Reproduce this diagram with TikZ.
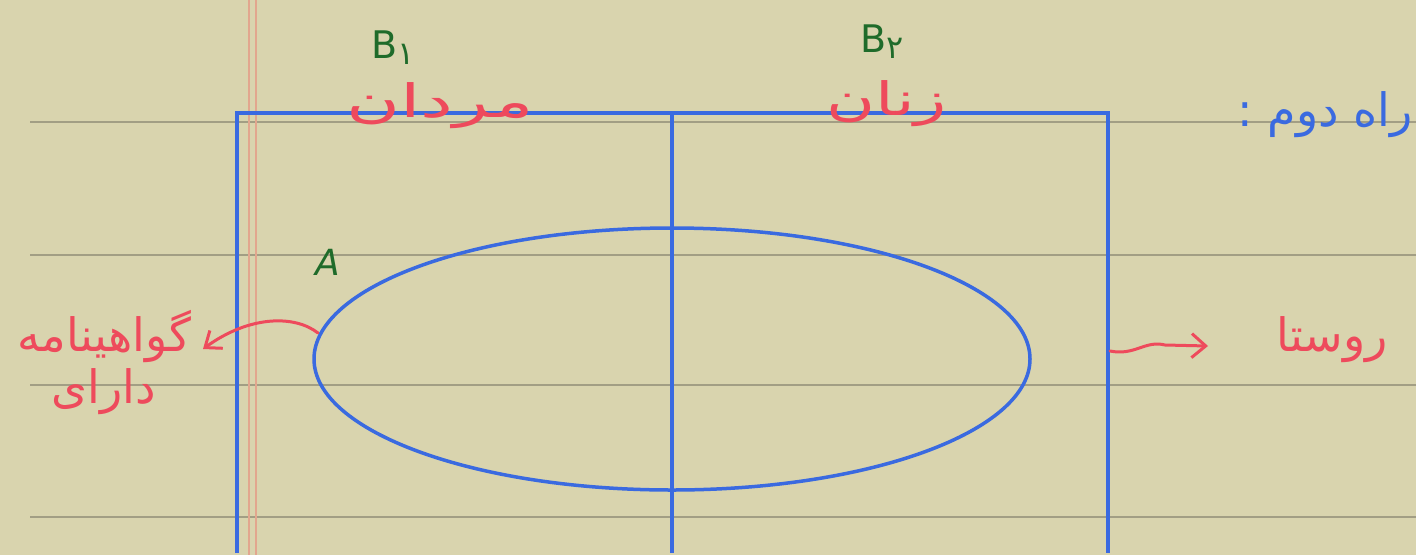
\documentclass[tikz,border=0pt]{standalone}
\usepackage{fontspec}
\usetikzlibrary{shapes.geometric,arrows.meta}
\TeXXeTstate=1
\newfontfamily\arabicfont[Script=Arabic]{DejaVu Sans}
\setsansfont{DejaVu Sans}
\definecolor{bg}{HTML}{D9D4AE}
\definecolor{rule}{HTML}{A29E84}
\definecolor{margin}{HTML}{E2A68E}
\definecolor{pen}{HTML}{3A6AE0}
\definecolor{ink}{HTML}{EE4A5C}
\definecolor{grn}{HTML}{1F6B2A}
\tikzset{
  ruled/.style={rule, line width=2pt},
  bluepen/.style={pen, line width=3.5pt},
  redpen/.style={ink, line width=3pt, line cap=round},
  fa/.style={ink, font=\arabicfont\fontsize{46}{50}\selectfont, inner sep=0pt},
  latin/.style={grn, font=\sffamily\fontsize{38}{44}\selectfont, inner sep=0pt},
}
\begin{document}
\begin{tikzpicture}[x=1pt,y=-1pt]
\useasboundingbox (0,0) rectangle (1416,555);
\fill[bg] (0,0) rectangle (1416,555);
% ruled lines
\foreach \yy in {122,255,385,517} \draw[ruled] (30,\yy) -- (1416,\yy);
% margin
\draw[margin, line width=1.5pt] (249,0) -- (249,555);
\draw[margin, line width=1.5pt] (256,0) -- (256,555);
% frame
\draw[bluepen] (237,553) -- (237,113) -- (1108,113) -- (1108,553);
\draw[bluepen] (672,113) -- (672,553);
\node[ellipse, draw=pen, line width=3.5pt, minimum width=716pt, minimum height=262pt, inner sep=0pt] (ell) at (672,359) {};
% labels
\node[latin] (b1) at (393,48) {B\raisebox{-6pt}{\arabicfont\fontsize{32}{36}\selectfont ۱}};
\node[latin] (b2) at (882,42) {B\raisebox{-6pt}{\arabicfont\fontsize{32}{36}\selectfont ۲}};
\node[fa] (men) at (440,106) {\scalebox{1.6}[1]{\beginR مردان\endR}};
\node[fa] (women) at (887,104) {\scalebox{1.45}[1]{\beginR زنان\endR}};
\node[pen, font=\arabicfont\fontsize{46}{50}\selectfont, inner sep=0pt, anchor=east] (way) at (1413,115) {\beginR راه دوم :\endR};
\node[latin, font=\sffamily\itshape\fontsize{36}{42}\selectfont] (A) at (328,262) {A};
\node[fa, align=center] (lic) at (104,362) {\beginR گواهینامه\endR\\[2pt]\beginR دارای\endR};
\node[fa] (village) at (1332,340) {\beginR روستا\endR};
% arrows
\coordinate (s1) at (318,333);
\coordinate (t1) at (203,349);
\draw[redpen, -{Straight Barb[length=14pt,width=22pt]}] (s1) .. controls (295,315) and (250,315) .. (t1);
\coordinate (s2) at (1110,351);
\coordinate (t2) at (1208,346);
\draw[redpen, -{Straight Barb[length=14pt,width=24pt]}] (s2) .. controls (1135,356) and (1145,340) .. (1165,345) -- (t2);
\end{tikzpicture}
\end{document}
